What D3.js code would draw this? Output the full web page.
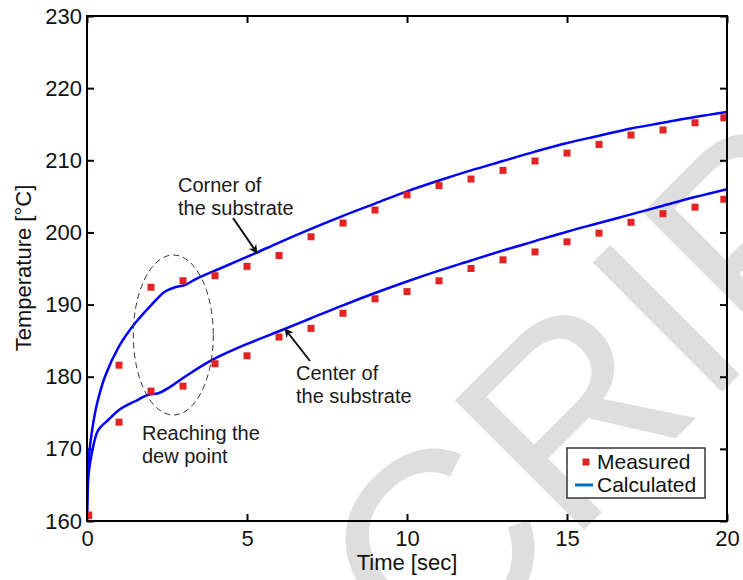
<!DOCTYPE html>
<html><head><meta charset="utf-8">
<script src="https://cdn.jsdelivr.net/npm/d3@7"></script>
<style>body{margin:0;background:#fff}svg{display:block}text{font-family:"Liberation Sans",Arial,sans-serif}</style>
</head><body>
<svg id="c" width="743" height="580"></svg>
<script>
// ---- data ----
const measTime = [0.05,1,2,3,4,5,6,7,8,9,10,11,12,13,14,15,16,17,18,19,19.9];
const cornerMeasured = [160.8,181.6,192.4,193.3,194.0,195.3,196.8,199.4,201.3,203.1,205.2,206.5,207.4,208.6,209.9,211.0,212.2,213.5,214.2,215.2,215.9];
const centerMeasured = [160.8,173.7,178.0,178.7,181.8,182.9,185.5,186.7,188.8,190.8,191.8,193.3,195.0,196.2,197.3,198.7,199.9,201.4,202.6,203.5,204.6];
const cornerCalcTime = [0,0.02,0.07,0.15,0.3,0.56,1,1.5,2,2.44,2.75,3.05,3.43,4.16,5.2,6,7,8,9,10,11,12,13,14,15,16,17,18,19,20];
const cornerCalc = [160.8,165.0,169.4,172.3,176.0,180.0,184.2,187.4,189.9,191.8,192.4,192.7,193.6,195.0,197.0,198.6,200.5,202.3,204.0,205.7,207.2,208.6,209.9,211.2,212.4,213.4,214.4,215.2,216.0,216.7];
const centerCalcTime = [0,0.02,0.05,0.15,0.35,0.66,1,1.5,1.92,2.23,2.6,3.06,3.9,5.09,6,7,8,9,10,11,12,13,14,15,16,17,18,19,20];
const centerCalc = [160.8,164.0,166.5,169.4,172.6,174.0,175.4,176.6,177.5,177.7,178.6,180.0,182.3,184.7,186.3,188.1,189.9,191.6,193.2,194.7,196.1,197.5,198.8,200.1,201.3,202.5,203.7,204.9,206.0];
const xTicks = [0,5,10,15,20];
const yTicks = [160,170,180,190,200,210,220,230];
const legendLabels = ["Measured","Calculated"];

// ---- layout ----
const svg = d3.select("#c");
const L=87,R=727,T=16,B=521;
const x = d3.scaleLinear().domain([0,20]).range([L,R]);
const y = d3.scaleLinear().domain([160,230]).range([B,T]);

// watermark
const wm = svg.append("g").attr("transform","translate(433,681) rotate(-45)")
  .attr("fill","#dedede").style("font-size","266px");
wm.append("text").attr("text-anchor","end").text("MANUS");
wm.append("text").attr("text-anchor","start").text("CRIPT");

svg.append("defs").append("clipPath").attr("id","clip")
  .append("rect").attr("x",L).attr("y",T).attr("width",R-L).attr("height",B-T);

// axes
const axFont = "22px";
const gx = svg.append("g").attr("transform",`translate(0,${B})`)
  .call(d3.axisBottom(x).tickValues(xTicks).tickSizeInner(-7).tickSizeOuter(0).tickPadding(9));
const gy = svg.append("g").attr("transform",`translate(${L},0)`)
  .call(d3.axisLeft(y).tickValues(yTicks).tickSizeInner(-7).tickSizeOuter(0).tickPadding(5));
const gt = svg.append("g").attr("transform",`translate(0,${T})`)
  .call(d3.axisTop(x).tickValues(xTicks).tickSizeInner(-7).tickSizeOuter(0).tickFormat(""));
const gr = svg.append("g").attr("transform",`translate(${R},0)`)
  .call(d3.axisRight(y).tickValues(yTicks).tickSizeInner(-7).tickSizeOuter(0).tickFormat(""));
[gx,gy,gt,gr].forEach(g=>{
  g.select(".domain").remove();
  g.selectAll(".tick line").attr("stroke","#000").attr("stroke-width",2);
  g.selectAll(".tick text").attr("fill","#111").style("font-size",axFont).style("font-family","'Liberation Sans',Arial,sans-serif");
});

// curves
const line = d3.line().x(d=>x(d[0])).y(d=>y(d[1])).curve(d3.curveCatmullRom.alpha(0.5));
const plot = svg.append("g").attr("clip-path","url(#clip)");
[[cornerCalcTime,cornerCalc],[centerCalcTime,centerCalc]].forEach(([ts,vs])=>{
  plot.append("path").datum(ts.map((t,i)=>[t,vs[i]])).attr("d",line)
    .attr("fill","none").attr("stroke","#0000ff").attr("stroke-width",2.5);
});
const ms = 7;
[cornerMeasured,centerMeasured].forEach(vs=>{
  plot.selectAll(null).data(measTime.map((t,i)=>[t,vs[i]])).join("rect")
    .attr("x",d=>x(d[0])-ms/2).attr("y",d=>y(d[1])-ms/2).attr("width",ms).attr("height",ms)
    .attr("fill","#e02424");
});

// frame
svg.append("rect").attr("x",L).attr("y",T).attr("width",R-L).attr("height",B-T)
  .attr("fill","none").attr("stroke","#000").attr("stroke-width",2);

// ellipse
svg.append("ellipse").attr("cx",173.3).attr("cy",335).attr("rx",40).attr("ry",80)
  .attr("fill","none").attr("stroke","#333").attr("stroke-width",1).attr("stroke-dasharray","6,4");

// annotations
const ann = (lines,x0,y0)=>{
  const t = svg.append("text").attr("x",x0).attr("y",y0).attr("fill","#1a1a1a").style("font-size","20px");
  lines.forEach((s,i)=>t.append("tspan").attr("x",x0).attr("dy",i?23:0).text(s));
};
ann(["Corner of","the substrate"],178,192);
ann(["Center of","the substrate"],296,380);
ann(["Reaching the","dew point"],142,440);

const defs = svg.select("defs");
defs.append("marker").attr("id","ah").attr("viewBox","0 0 10 10").attr("refX",9).attr("refY",5)
  .attr("markerWidth",9).attr("markerHeight",9).attr("orient","auto-start-reverse").attr("markerUnits","userSpaceOnUse")
  .append("path").attr("d","M0,0 L10,5 L0,10 L3,5 Z").attr("fill","#111");
svg.append("line").attr("x1",233).attr("y1",218).attr("x2",257).attr("y2",253)
  .attr("stroke","#111").attr("stroke-width",2).attr("marker-end","url(#ah)");
svg.append("line").attr("x1",310).attr("y1",361).attr("x2",285).attr("y2",329)
  .attr("stroke","#111").attr("stroke-width",2).attr("marker-end","url(#ah)");

// axis titles
svg.append("text").attr("x",407).attr("y",570).attr("text-anchor","middle").attr("fill","#111")
  .style("font-size","22px").text("Time [sec]");
svg.append("text").attr("transform","translate(31,268) rotate(-90)").attr("text-anchor","middle").attr("fill","#111")
  .style("font-size","22px").text("Temperature [°C]");

// legend
const lg = svg.append("g");
lg.append("rect").attr("x",567).attr("y",448).attr("width",138).attr("height",50)
  .attr("fill","#fff").attr("stroke","#333").attr("stroke-width",1.5);
lg.append("rect").attr("x",586-ms/2).attr("y",462-ms/2).attr("width",ms).attr("height",ms).attr("fill","#e02424");
lg.append("line").attr("x1",575).attr("x2",593).attr("y1",485).attr("y2",485).attr("stroke","#0072BD").attr("stroke-width",3);
lg.selectAll(null).data(legendLabels).join("text").attr("x",597).attr("y",(d,i)=>469+i*23)
  .attr("fill","#111").style("font-size","21px").text(d=>d);
</script>
</body></html>
